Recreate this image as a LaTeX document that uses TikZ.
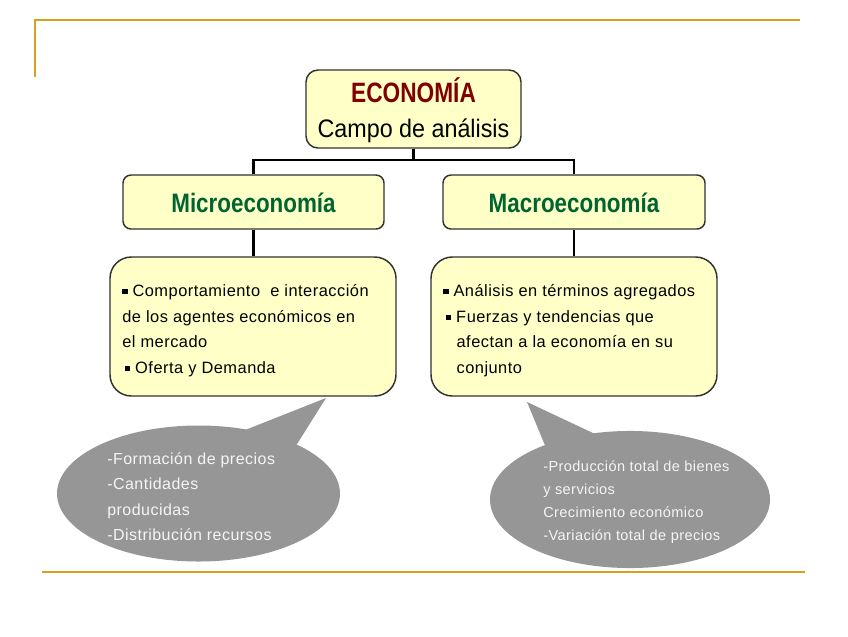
\documentclass[tikz,border=0pt]{standalone}
\usepackage{fontspec}
\setmainfont{Liberation Sans}
\newfontfamily\ecofont[FakeStretch=0.81]{Liberation Sans}
\newfontfamily\campofont[FakeStretch=0.92]{Liberation Sans}
\newfontfamily\microfont[FakeStretch=0.84]{Liberation Sans}
\newfontfamily\spfont[LetterSpace=3]{Liberation Sans}
\definecolor{goldline}{RGB}{214,162,30}
\definecolor{boxfill}{RGB}{255,255,200}
\definecolor{boxline}{RGB}{50,50,50}
\definecolor{ecored}{RGB}{128,0,0}
\definecolor{microgreen}{RGB}{0,100,50}
\definecolor{callgray}{RGB}{150,150,150}
\definecolor{calltext}{RGB}{245,245,245}
\newcommand{\sqb}{\rule[0.12em]{0.32em}{0.32em}}
\begin{document}
\begin{tikzpicture}[x=0.75pt,y=-0.75pt,
  ybox/.style={draw=boxline, line width=1.1pt, fill=boxfill, inner sep=0pt},
  conn/.style={line width=1.9pt, black},
  gline/.style={line width=1.5pt, goldline},
  calloutfill/.style={fill=callgray, draw=none},
  titletext/.style={inner sep=0pt, anchor=base},
  bodytext/.style={inner sep=0pt, anchor=west, align=left, font=\spfont\fontsize{12.3pt}{19.2pt}\selectfont},
  calltxt/.style={inner sep=0pt, anchor=west, align=left, text=calltext}]
\useasboundingbox (0,0) rectangle (848,636);
\fill[white] (0,0) rectangle (848,636);

% gold frame lines
\coordinate (g1) at (35,77);
\coordinate (g2) at (35,20);
\coordinate (g3) at (800,20);
\coordinate (g4) at (42,572);
\coordinate (g5) at (805,572);
\draw[gline] (g1) -- (g2) -- (g3);
\draw[gline] (g4) -- (g5);

% callouts (drawn first)
\fill[calloutfill] (198.5,493.5) ellipse [x radius=106.1pt, y radius=51pt];
\coordinate (t1) at (326,398);
\coordinate (t1a) at (230,436);
\coordinate (t1b) at (292,452);
\fill[calloutfill] (t1) -- (t1a) -- (t1b) -- cycle;

\fill[calloutfill] (630,499.5) ellipse [x radius=105pt, y radius=51.4pt];
\coordinate (t2) at (527,402);
\coordinate (t2a) at (549,455);
\coordinate (t2b) at (610,441);
\fill[calloutfill] (t2) -- (t2a) -- (t2b) -- cycle;

% top box
\node[ybox, rounded corners=9pt, minimum width=161.25pt, minimum height=58.5pt] (eco) at (413.5,109) {};
\node[titletext, text=ecored, font=\ecofont\bfseries\fontsize{21pt}{24pt}\selectfont] (ecot) at (413.5,102) {ECONOMÍA};
\node[titletext, font=\campofont\fontsize{19pt}{22pt}\selectfont] (campot) at (413.5,137) {Campo de análisis};

% level 2 boxes
\node[ybox, rounded corners=6pt, minimum width=195.75pt, minimum height=40.5pt] (micro) at (253.5,202) {};
\node[ybox, rounded corners=6pt, minimum width=196.5pt, minimum height=40.5pt] (macro) at (574,202) {};
\node[titletext, text=microgreen, font=\microfont\bfseries\fontsize{20pt}{24pt}\selectfont] (microt) at (253.5,212.5) {Microeconomía};
\node[titletext, text=microgreen, font=\microfont\bfseries\fontsize{20pt}{24pt}\selectfont] (macrot) at (574,212.5) {Macroeconomía};

% content boxes
\node[ybox, rounded corners=16pt, minimum width=214.5pt, minimum height=104.25pt] (microbox) at (253,326.5) {};
\node[ybox, rounded corners=16pt, minimum width=214.5pt, minimum height=104.25pt] (macrobox) at (574,326.5) {};

% connectors
\coordinate (j) at (413.5,160);
\draw[conn] (eco.south) -- (j);
\draw[conn] (micro.north) |- (j) -| (macro.north);
\draw[conn] (micro.south) -- (micro.south |- microbox.north);
\draw[conn] (macro.south) -- (macro.south |- macrobox.north);

% content texts
\node[bodytext] (microtxt) at (122,330.5)
  {\sqb\ Comportamiento\ \ e interacción\\
   de los agentes económicos en\\
   el mercado\\
   \hspace{2pt}\sqb\ Oferta y Demanda};
\node[bodytext] (macrotxt) at (443,330.5)
  {\sqb\ Análisis en términos agregados\\
   \hspace{2pt}\sqb\ Fuerzas y tendencias que\\
   \hspace{10pt}afectan a la economía en su\\
   \hspace{10pt}conjunto};

% callout texts
\node[calltxt, font=\spfont\fontsize{12pt}{19.1pt}\selectfont] (lefttxt) at (107,496.5)
  {-Formación de precios\\
   -Cantidades\\
   producidas\\
   -Distribución recursos};
\node[calltxt, font=\spfont\fontsize{10.9pt}{17.25pt}\selectfont] (righttxt) at (543,502.5)
  {-Producción total de bienes\\
   y servicios\\
   Crecimiento económico\\
   -Variación total de precios};
\end{tikzpicture}
\end{document}
